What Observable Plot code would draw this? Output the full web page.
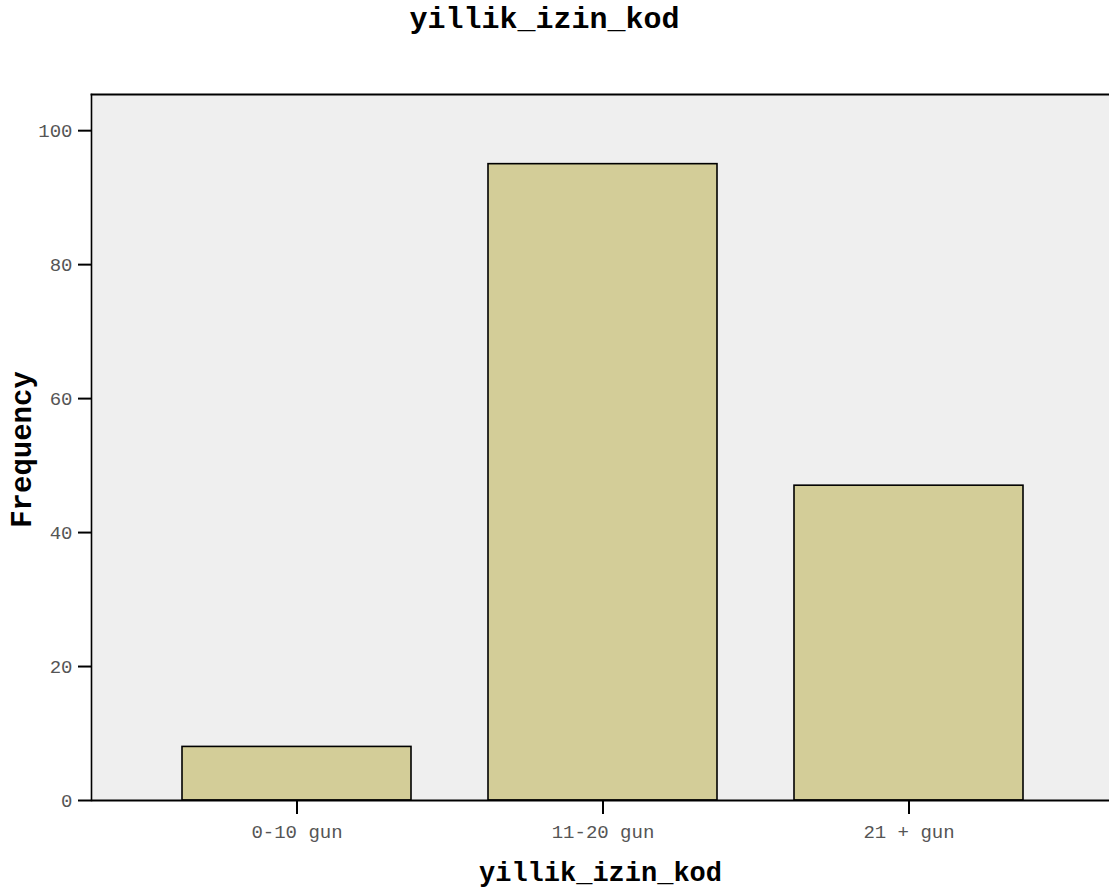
<!DOCTYPE html>
<html>
<head>
<meta charset="utf-8">
<script src="https://cdn.jsdelivr.net/npm/d3@7"></script>
<script src="https://cdn.jsdelivr.net/npm/@observablehq/plot@0.6"></script>
<style>
  html, body { margin: 0; padding: 0; background: #ffffff; }
  #chart svg { display: block; }
</style>
</head>
<body>
<div id="chart"></div>
<script>
const categories = ["0-10 gun", "11-20 gun", "21 + gun"];
const frequencies = [8, 95, 47];
const yTicks = [0, 20, 40, 60, 80, 100];
const chartTitle = "yillik_izin_kod";
const xLabel = "yillik_izin_kod";
const yLabel = "Frequency";

const data = categories.map((c, i) => ({category: c, frequency: frequencies[i]}));

const mono = "'Liberation Mono', 'DejaVu Sans Mono', monospace";

const chart = Plot.plot({
  width: 1109,
  height: 895,
  marginLeft: 91,
  marginRight: 0,
  marginTop: 94,
  marginBottom: 95,
  style: {fontFamily: mono, background: "#ffffff"},
  x: {domain: categories, paddingInner: 0.251, paddingOuter: 0.287, align: 0.512, axis: null},
  y: {domain: [0, 105.4], axis: null},
  marks: [
    Plot.frame({fill: "#efefef", stroke: null}),
    Plot.barY(data, {x: "category", y: "frequency", fill: "#d3cd98", stroke: "#000000", strokeWidth: 1.6}),
    Plot.axisY({ticks: yTicks, tickSize: 13, tickPadding: 6, stroke: "#000000", strokeWidth: 2, fill: "#555555", fontSize: 19, label: null, fontFamily: mono}),
    Plot.axisX({tickSize: 14, tickPadding: 10, stroke: "#000000", strokeWidth: 2, fill: "#555555", fontSize: 19, label: null, fontFamily: mono}),
    Plot.frame({anchor: "left", stroke: "#000000", strokeWidth: 1.6}),
    Plot.frame({anchor: "top", stroke: "#000000", strokeWidth: 1.8}),
    Plot.ruleY([0], {stroke: "#000000", strokeWidth: 2.2}),
    Plot.text([chartTitle], {frameAnchor: "top", dx: -56, dy: -76, lineAnchor: "middle", textAnchor: "middle", fontSize: 30, fontWeight: "bold", fill: "#000000", fontFamily: mono}),
    Plot.text([xLabel], {frameAnchor: "bottom", dy: 72, lineAnchor: "middle", textAnchor: "middle", fontSize: 27, fontWeight: "bold", fill: "#000000", fontFamily: mono}),
    Plot.text([yLabel], {frameAnchor: "left", dx: -70, dy: 2, rotate: -90, lineAnchor: "middle", textAnchor: "middle", fontSize: 29, fontWeight: "bold", fill: "#000000", fontFamily: mono})
  ]
});
document.getElementById("chart").appendChild(chart);
</script>
</body>
</html>
